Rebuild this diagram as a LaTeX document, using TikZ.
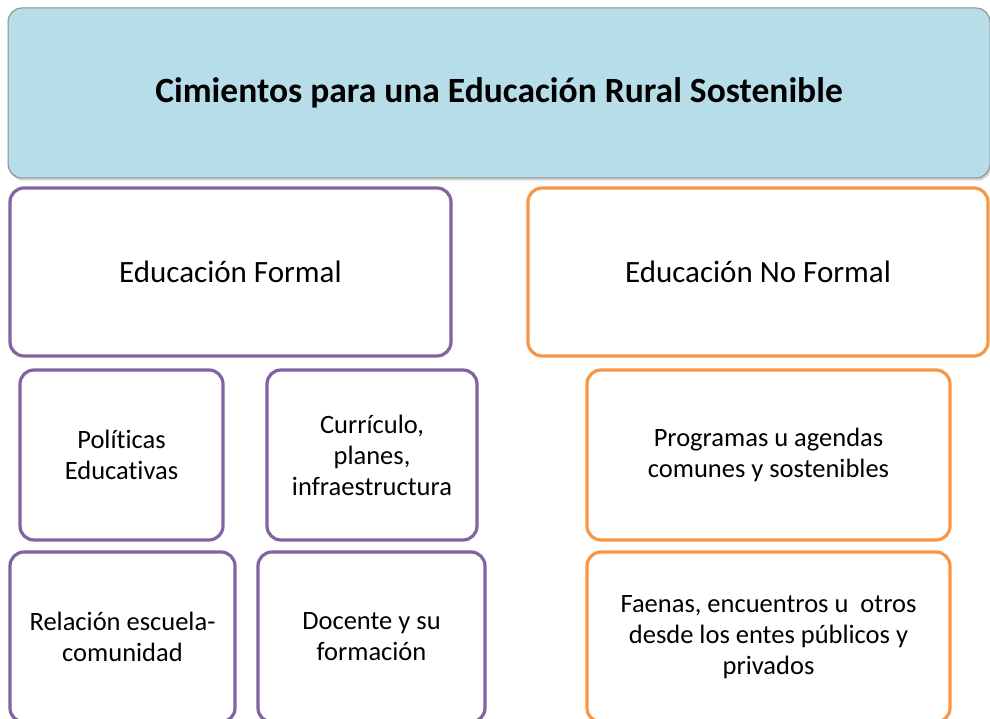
\documentclass[tikz,border=0pt]{standalone}
\usepackage{fontspec}
\setmainfont[Ligatures=NoCommon]{Carlito}
\usetikzlibrary{positioning}
\usetikzlibrary{shadows}
\definecolor{formalpurple}{HTML}{8064A2}
\definecolor{noformalorange}{HTML}{F79646}
\definecolor{titleblue}{HTML}{B7DDE8}
\definecolor{titleline}{HTML}{8C8C8C}
\begin{document}
\begin{tikzpicture}[x=1pt, y=1pt,
        box/.style={draw, rounded corners=14pt, line width=3.2pt, fill=white, align=center, inner sep=0pt, outer sep=0pt, font=\fontsize{26.5}{31}\selectfont},
        formal/.style={box, draw=formalpurple},
        noformal/.style={box, draw=noformalorange},
        head/.style={draw=titleline, line width=1pt, rounded corners=14pt, fill=titleblue, inner sep=0pt, outer sep=0pt,
            drop shadow={opacity=0.35, shadow xshift=1.5pt, shadow yshift=-2.5pt},
            font=\fontsize{35.5}{40}\selectfont\bfseries}]
        \useasboundingbox (0,0) rectangle (990,719);
        \clip (0,0) rectangle (990,719);
        \fill[white] (0,0) rectangle (990,719);

        \node[head, minimum width=982pt, minimum height=170pt] (cim) at (499,626) {Cimientos para una Educación Rural Sostenible};

        \node[formal, minimum width=441pt, minimum height=168pt, font=\fontsize{31}{34}\selectfont] (ef) [below right=10pt and 2pt of cim.south west] {Educación Formal};
        \node[noformal, minimum width=460pt, minimum height=168pt, font=\fontsize{31}{34}\selectfont] (enf) [right=77pt of ef] {Educación No Formal};

        % formal
        \node[formal, minimum width=203pt, minimum height=170pt] (pol) [below right=14pt and 10pt of ef.south west] {Políticas\\Educativas};
        \node[formal, minimum width=210pt, minimum height=170pt] (cur) [right=44pt of pol] {Currículo,\\planes,\\infraestructura};
        \node[formal, minimum width=225pt, minimum height=170pt] (rel) [below right=12pt and -10pt of pol.south west] {Relación escuela-\\comunidad};
        \node[formal, minimum width=227pt, minimum height=170pt] (doc) [right=23pt of rel] {Docente y su\\formación};

        % no formal
        \node[noformal, minimum width=363pt, minimum height=170pt] (prog) [below right=14pt and 59pt of enf.south west] {Programas u agendas\\comunes y sostenibles};
        \node[noformal, minimum width=363pt, minimum height=170pt] (fae) [below=12pt of prog] {Faenas, encuentros u\ \ otros\\desde los entes públicos y\\privados};
    \end{tikzpicture}
\end{document}
